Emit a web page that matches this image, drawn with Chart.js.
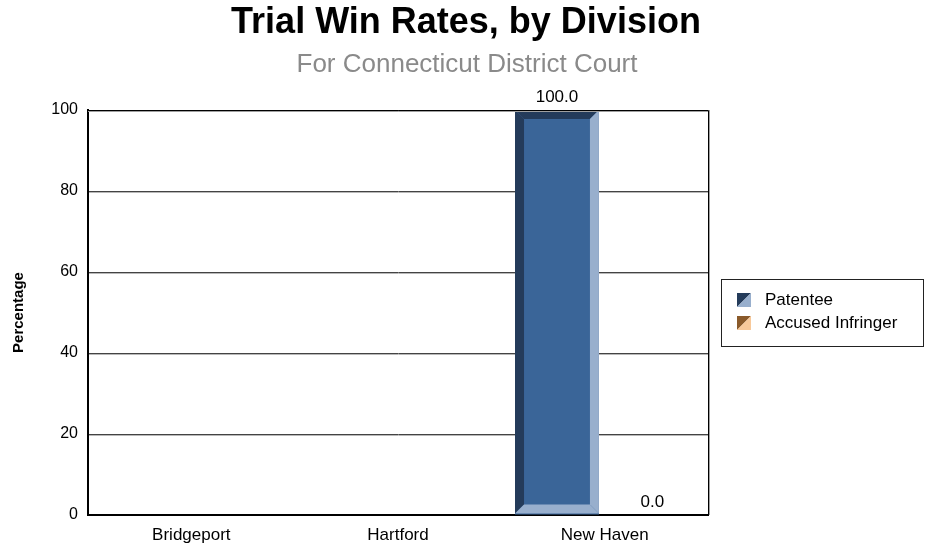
<!DOCTYPE html>
<html>
<head>
<meta charset="utf-8">
<script src="https://cdn.jsdelivr.net/npm/chart.js@4/dist/chart.umd.min.js"></script>
<style>
html,body{margin:0;padding:0;background:#fff;}
#wrap{width:925px;height:548px;}
</style>
</head>
<body>
<div id="wrap"><canvas id="c" width="925" height="548"></canvas></div>
<script>
const categories = ['Bridgeport', 'Hartford', 'New Haven'];
const patentee = [null, null, 100];
const accused = [null, null, 0];
const seriesNames = ['Patentee', 'Accused Infringer'];
const yTicks = [0, 20, 40, 60, 80, 100];
const titleText = 'Trial Win Rates, by Division';
const subtitleText = 'For Connecticut District Court';
const yAxisTitle = 'Percentage';

const FONT = "'Liberation Sans', Arial, sans-serif";
const palette = [
  {dark: '#243b5a', mid: '#3a6598', light: '#98afcd'},
  {dark: '#8a5a2a', mid: '#c98a4e', light: '#f8c99a'}
];

const bevelPlugin = {
  id: 'bevel',
  beforeDatasetsDraw(chart) {
    // light shadow under each grid line
    const ctx = chart.ctx;
    const a = chart.chartArea;
    const ys = chart.scales.y;
    ctx.save();
    ctx.strokeStyle = '#b8b8b8';
    ctx.lineWidth = 1;
    ys.ticks.forEach(t => {
      if (t.value <= 0) return;
      const y = Math.round(ys.getPixelForValue(t.value)) + 1.5;
      ctx.beginPath();
      ctx.moveTo(a.left + 1, y);
      ctx.lineTo(a.right, y);
      ctx.stroke();
    });
    ctx.restore();
  },
  afterDatasetsDraw(chart) {
    const ctx = chart.ctx;
    chart.data.datasets.forEach((ds, di) => {
      const meta = chart.getDatasetMeta(di);
      const col = palette[di];
      meta.data.forEach((el, i) => {
        if (ds.data[i] === null || ds.data[i] === undefined) return;
        const p = el.getProps(['x', 'y', 'base', 'width'], true);
        const L = p.x - p.width / 2, R = p.x + p.width / 2;
        const T = Math.min(p.y, p.base), B = Math.max(p.y, p.base) - 1;
        if (B - T < 1) return;
        const b = Math.min(9, (B - T) / 2, (R - L) / 2);
        const poly = (pts, c) => {
          ctx.beginPath();
          ctx.moveTo(pts[0][0], pts[0][1]);
          for (let k = 1; k < pts.length; k++) ctx.lineTo(pts[k][0], pts[k][1]);
          ctx.closePath();
          ctx.fillStyle = c;
          ctx.fill();
        };
        ctx.save();
        poly([[L, T], [R, T], [R - b, T + b], [L + b, T + b]], col.dark);
        poly([[L, T], [L + b, T + b], [L + b, B - b], [L, B]], col.dark);
        poly([[R, T], [R, B], [R - b, B - b], [R - b, T + b]], col.light);
        poly([[L, B], [R, B], [R - b, B - b], [L + b, B - b]], col.light);
        ctx.restore();
      });
    });
    // value labels
    ctx.save();
    ctx.font = '17px ' + FONT;
    ctx.fillStyle = '#000';
    ctx.textAlign = 'center';
    ctx.textBaseline = 'alphabetic';
    chart.data.datasets.forEach((ds, di) => {
      const meta = chart.getDatasetMeta(di);
      meta.data.forEach((el, i) => {
        const v = ds.data[i];
        if (v === null || v === undefined) return;
        ctx.fillText(v.toFixed(1), el.x, el.y - 8);
      });
    });
    ctx.restore();
  },
  afterDraw(chart) {
    const ctx = chart.ctx;
    const a = chart.chartArea;
    ctx.save();
    // plot frame (top/right)
    const l = Math.round(a.left), t = Math.round(a.top), r = Math.round(a.right), bt = Math.round(a.bottom);
    ctx.lineWidth = 1;
    ctx.strokeStyle = '#a0a0a0';
    ctx.beginPath();
    ctx.moveTo(l, t + 1.5); ctx.lineTo(r + 1, t + 1.5);
    ctx.moveTo(r + 1.5, t); ctx.lineTo(r + 1.5, bt);
    ctx.stroke();
    ctx.strokeStyle = '#000';
    ctx.beginPath();
    ctx.moveTo(l, t + 0.5);
    ctx.lineTo(r + 0.5, t + 0.5);
    ctx.lineTo(r + 0.5, bt);
    ctx.stroke();
    // titles
    ctx.textAlign = 'center';
    ctx.textBaseline = 'alphabetic';
    ctx.fillStyle = '#000';
    ctx.font = 'bold 36px ' + FONT;
    ctx.fillText(titleText, 466, 33);
    ctx.fillStyle = '#8a8a8a';
    ctx.font = '26px ' + FONT;
    ctx.fillText(subtitleText, 467, 72);
    // legend
    ctx.strokeStyle = '#222';
    ctx.lineWidth = 1;
    ctx.strokeRect(721.5, 279.5, 202, 67);
    ctx.font = '17px ' + FONT;
    ctx.textBaseline = 'middle';
    ctx.textAlign = 'left';
    seriesNames.forEach((name, k) => {
      const x = 737, y = 293 + k * 23, s = 14;
      ctx.fillStyle = palette[k].dark;
      ctx.beginPath(); ctx.moveTo(x, y); ctx.lineTo(x + s, y); ctx.lineTo(x, y + s); ctx.closePath(); ctx.fill();
      ctx.fillStyle = palette[k].light;
      ctx.beginPath(); ctx.moveTo(x + s, y); ctx.lineTo(x + s, y + s); ctx.lineTo(x, y + s); ctx.closePath(); ctx.fill();
      ctx.fillStyle = '#000';
      ctx.fillText(name, 765, y + s / 2);
    });
    ctx.restore();
  }
};

new Chart(document.getElementById('c'), {
  type: 'bar',
  data: {
    labels: categories,
    datasets: [
      {label: seriesNames[0], data: patentee, backgroundColor: palette[0].mid, borderWidth: 0},
      {label: seriesNames[1], data: accused, backgroundColor: palette[1].mid, borderWidth: 0}
    ]
  },
  plugins: [bevelPlugin],
  options: {
    responsive: false,
    animation: false,
    devicePixelRatio: 1,
    layout: {padding: {left: 0, right: 217, top: 110, bottom: 0}},
    datasets: {bar: {categoryPercentage: 0.923, barPercentage: 0.88}},
    plugins: {
      legend: {display: false},
      tooltip: {enabled: false},
      title: {display: false},
      subtitle: {display: false}
    },
    scales: {
      x: {
        afterFit(scale) { scale.height = 33; },
        grid: {display: false, drawTicks: false},
        border: {display: true, color: '#000', width: 2},
        ticks: {color: '#000', font: {family: FONT, size: 17}, padding: 10}
      },
      y: {
        min: 0, max: 100,
        afterFit(scale) { scale.width = 88; },
        afterBuildTicks(scale) { scale.ticks = yTicks.map(v => ({value: v})); },
        grid: {color: '#444', drawTicks: false},
        border: {display: true, color: '#000', width: 2},
        ticks: {color: '#000', font: {family: FONT, size: 16}, padding: 10},
        title: {
          display: true,
          text: yAxisTitle,
          color: '#000',
          font: {family: FONT, size: 15, weight: 'bold'},
          padding: {top: 10, bottom: 0}
        }
      }
    }
  }
});
</script>
</body>
</html>
